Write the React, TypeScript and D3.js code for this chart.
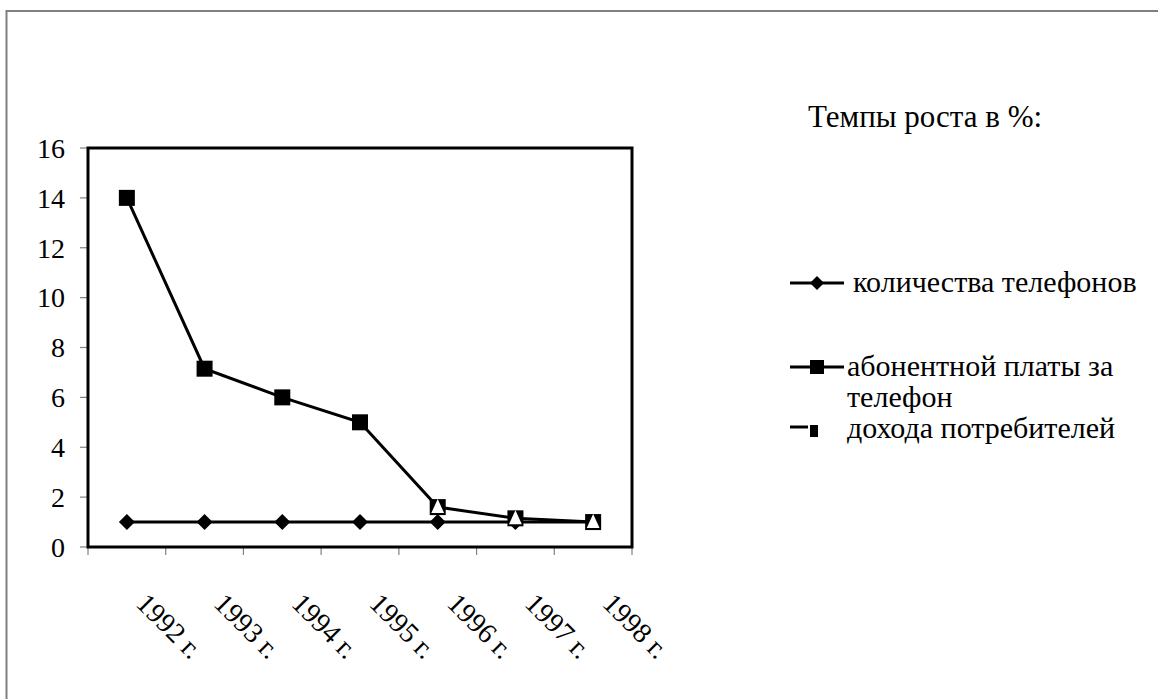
import React from "react";
import * as d3 from "d3";

const categories = ["1992 г.", "1993 г.", "1994 г.", "1995 г.", "1996 г.", "1997 г.", "1998 г."];
const phonesCount: (number | null)[] = [1, 1, 1, 1, 1, 1, 1];
const subscriptionFee: (number | null)[] = [14, 7.15, 6, 5, 1.6, 1.15, 1.0];
const consumerIncome: (number | null)[] = [null, null, null, null, 1.6, 1.15, 1.0];
const yTicks = [0, 2, 4, 6, 8, 10, 12, 14, 16];
const legendTitle = "Темпы роста в %:";
const legendLabels = ["количества телефонов", "абонентной платы за", "телефон", "дохода потребителей"];

const W = 1158;
const H = 699;
const FONT = "Liberation Serif";

export default function App() {
  const left = 88, right = 632, top = 148, bottom = 547;
  const x = d3.scaleBand<string>().domain(categories).range([left, right]);
  const y = d3.scaleLinear().domain([0, 16]).range([bottom, top]);
  const cx = (i: number) => (x(categories[i]) as number) + x.bandwidth() / 2;

  const line = d3
    .line<number | null>()
    .defined((d) => d !== null)
    .x((_, i) => cx(i))
    .y((d) => y(d as number));

  const diamond = (s: number) => `M0,${-s}L${s},0L0,${s}L${-s},0Z`;
  const tri = (s: number) => `M0,${-s}L${s * 0.8},${s * 0.75}L${-s * 0.8},${s * 0.75}Z`;

  const lx0 = 790, lx1 = 844, tx = 847;
  const rowY = [283, 367, 398, 429];

  return (
    <svg width={W} height={H} style={{ position: "absolute", left: 0, top: 0, background: "#fff" }}>
      <rect x={0} y={0} width={W} height={H} fill="#fff" />
      {/* outer frame */}
      <rect x={6.5} y={11} width={W + 20} height={H + 20} fill="none" stroke="#808080" strokeWidth={2} />

      {/* y ticks */}
      {yTicks.map((t) => (
        <g key={t}>
          <line x1={80} x2={left} y1={y(t)} y2={y(t)} stroke="#808080" strokeWidth={1.2} />
          <text x={65} y={y(t)} dy="0.35em" textAnchor="end" fontFamily={FONT} fontSize={28} fill="#000">
            {t}
          </text>
        </g>
      ))}
      {/* x ticks */}
      {categories.map((c) => (
        <line key={c} x1={x(c) as number} x2={x(c) as number} y1={bottom} y2={bottom + 8} stroke="#808080" strokeWidth={1.2} />
      ))}
      <line x1={right} x2={right} y1={bottom} y2={bottom + 8} stroke="#808080" strokeWidth={1.2} />
      {categories.map((c, i) => (
        <text key={c} transform={`translate(${cx(i) + 8},${605}) rotate(45)`} fontFamily={FONT} fontSize={28} fill="#000">
          {c}
        </text>
      ))}

      {/* plot frame */}
      <rect x={left} y={top} width={right - left} height={bottom - top} fill="none" stroke="#000" strokeWidth={3} />

      {/* series */}
      <path d={line(phonesCount) || ""} fill="none" stroke="#000" strokeWidth={3} />
      <path d={line(subscriptionFee) || ""} fill="none" stroke="#000" strokeWidth={3} />
      <path d={line(consumerIncome) || ""} fill="none" stroke="#000" strokeWidth={1} />
      {phonesCount.map((v, i) =>
        v === null ? null : <path key={"d" + i} d={diamond(8)} transform={`translate(${cx(i)},${y(v)})`} fill="#000" />
      )}
      {subscriptionFee.map((v, i) =>
        v === null ? null : <rect key={"s" + i} x={cx(i) - 8} y={y(v) - 8} width={16} height={16} fill="#000" />
      )}
      {consumerIncome.map((v, i) =>
        v === null ? null : <path key={"t" + i} d={tri(8)} transform={`translate(${cx(i)},${y(v)})`} fill="#fff" />
      )}

      {/* legend */}
      <text x={808} y={127} fontFamily={FONT} fontSize={31} fill="#000">{legendTitle}</text>

      <line x1={lx0} x2={lx1} y1={rowY[0]} y2={rowY[0]} stroke="#000" strokeWidth={3} />
      <path d={diamond(7)} transform={`translate(${(lx0 + lx1) / 2},${rowY[0]})`} fill="#000" />
      <text x={tx + 6} y={rowY[0] + 9} fontFamily={FONT} fontSize={30} fill="#000">{legendLabels[0]}</text>

      <line x1={lx0} x2={lx1} y1={rowY[1]} y2={rowY[1]} stroke="#000" strokeWidth={3} />
      <rect x={(lx0 + lx1) / 2 - 7} y={rowY[1] - 7} width={14} height={14} fill="#000" />
      <text x={tx} y={rowY[1] + 9} fontFamily={FONT} fontSize={30} fill="#000">{legendLabels[1]}</text>
      <text x={tx} y={rowY[2] + 9} fontFamily={FONT} fontSize={30} fill="#000">{legendLabels[2]}</text>

      <line x1={lx0} x2={lx0 + 18} y1={rowY[3] - 2} y2={rowY[3] - 2} stroke="#000" strokeWidth={3} />
      <rect x={lx0 + 20} y={rowY[3] - 4} width={8} height={12} fill="#000" />
      <text x={tx} y={rowY[3] + 9} fontFamily={FONT} fontSize={30} fill="#000">{legendLabels[3]}</text>
    </svg>
  );
}
